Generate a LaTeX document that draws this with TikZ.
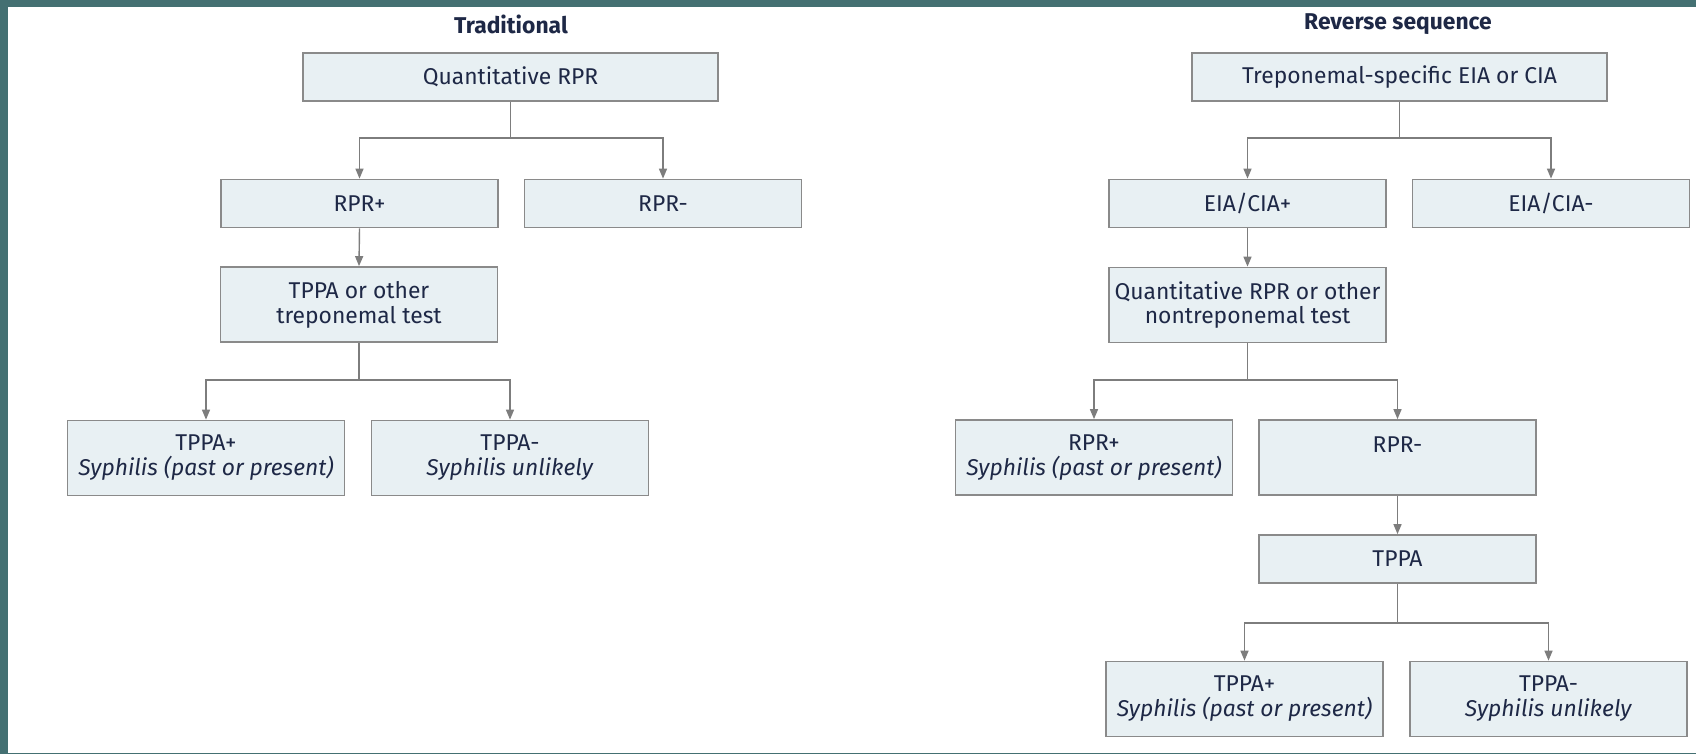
\documentclass[tikz,border=0pt]{standalone}
\usepackage{fontspec}
\setmainfont{Fira Sans}
\usetikzlibrary{arrows.meta}

\definecolor{slideteal}{RGB}{68,112,114}
\definecolor{boxfill}{RGB}{232,240,243}
\definecolor{boxgray}{RGB}{138,138,138}
\definecolor{arrowgray}{RGB}{125,125,125}
\definecolor{textnavy}{RGB}{30,40,70}

\tikzset{
    box/.style={draw=boxgray, line width=1pt, fill=boxfill, text=textnavy,
        minimum width=5.54cm, minimum height=0.96cm, inner sep=0pt, align=center,
        font=\fontsize{13}{14.2}\selectfont},
    widebox/.style={box, minimum width=8.3cm},
    tallbox/.style={box, minimum height=1.5cm},
    link/.style={draw=arrowgray, line width=0.8pt},
    arr/.style={link, -{Triangle[length=0.2cm,width=0.16cm]}},
    heading/.style={text=textnavy, font=\bfseries\fontsize{13}{14.2}\selectfont}
}

\begin{document}
\begin{tikzpicture}[x=0.02cm, y=-0.02cm]
            % slide background
            \fill[slideteal] (0,0) rectangle (1696,754);
            \fill[white] (8,7) rectangle (1696,753);

            % Traditional
            \node[heading] (tradtitle) at (511,24) {Traditional};
            \node[widebox] (qrpr) at (510.5,77) {Quantitative RPR};
            \node[box] (rprpos) at (359.5,203.5) {RPR+};
            \node[box] (rprneg) at (663,203.5) {RPR-};
            \node[tallbox] (tppaother) at (359,304.5) {TPPA or other\\treponemal test};
            \node[tallbox] (tppapos) at (206,458) {TPPA+\\\textit{Syphilis (past or present)}};
            \node[tallbox] (tppaneg) at (510,458) {TPPA-\\\textit{Syphilis unlikely}};

            \coordinate (tradsplit) at (510.5,138);
            \coordinate (tppasplit) at (359,380);
            \draw[link] (qrpr.south) -- (tradsplit);
            \draw[arr] (tradsplit) -| (rprpos.north);
            \draw[arr] (tradsplit) -| (rprneg.north);
            \draw[arr] (rprpos.south) -- (tppaother.north);
            \draw[link] (tppaother.south) -- (tppasplit);
            \draw[arr] (tppasplit) -| (tppapos.north);
            \draw[arr] (tppasplit) -| (tppaneg.north);

            % Reverse sequence
            \node[heading] (revtitle) at (1398,24) {Reverse sequence};
            \node[widebox] (eiacia) at (1399.5,77) {Treponemal-specific EIA or CIA};
            \node[box] (eiapos) at (1247.5,203.5) {EIA/CIA+};
            \node[box] (eianeg) at (1551,203.5) {EIA/CIA-};
            \node[tallbox] (qrprother) at (1247.5,305) {Quantitative RPR or other\\nontreponemal test};
            \node[tallbox] (revrprpos) at (1094,457.5) {RPR+\\\textit{Syphilis (past or present)}};
            \node[tallbox] (revrprneg) at (1397.5,457.5) {RPR-\\~};
            \node[box] (revtppa) at (1397.5,559) {TPPA};
            \node[tallbox] (revtppapos) at (1244.5,699) {TPPA+\\\textit{Syphilis (past or present)}};
            \node[tallbox] (revtppaneg) at (1548.5,699) {TPPA-\\\textit{Syphilis unlikely}};

            \coordinate (revsplit) at (1399.5,138);
            \coordinate (qrprsplit) at (1247.5,380);
            \coordinate (revtppasplit) at (1397.5,623);
            \draw[link] (eiacia.south) -- (revsplit);
            \draw[arr] (revsplit) -| (eiapos.north);
            \draw[arr] (revsplit) -| (eianeg.north);
            \draw[arr] (eiapos.south) -- (qrprother.north);
            \draw[link] (qrprother.south) -- (qrprsplit);
            \draw[arr] (qrprsplit) -| (revrprpos.north);
            \draw[arr] (qrprsplit) -| (revrprneg.north);
            \draw[arr] (revrprneg.south) -- (revtppa.north);
            \draw[link] (revtppa.south) -- (revtppasplit);
            \draw[arr] (revtppasplit) -| (revtppapos.north);
            \draw[arr] (revtppasplit) -| (revtppaneg.north);
\end{tikzpicture}
\end{document}
